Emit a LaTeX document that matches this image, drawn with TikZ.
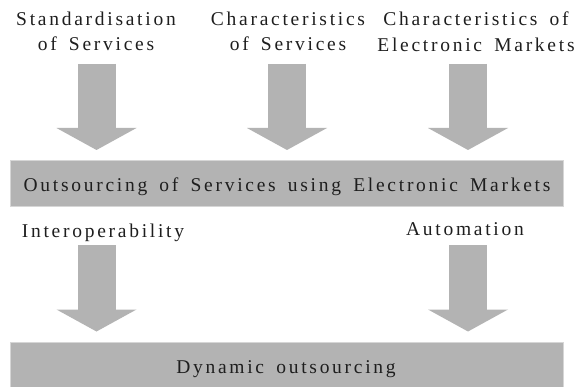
\documentclass[tikz,border=0pt]{standalone}
\usepackage{fontspec}
\usetikzlibrary{arrows.meta}
\newfontfamily\lblfont{Liberation Serif}[LetterSpace=14,WordSpace=1.6]
\definecolor{barc}{HTML}{B3B3B3}
\definecolor{edgec}{HTML}{D6D6D6}
\definecolor{textc}{HTML}{1E1E1E}
\begin{document}
\begin{tikzpicture}[x=1pt,y=-1pt,
  lbl/.style={font={\lblfont\fontsize{19.5pt}{25.5pt}\selectfont}, text=textc, inner sep=0pt, align=center},
  bar/.style={fill=barc, draw=edgec, line width=0.6pt, inner sep=0pt, minimum width=553pt, anchor=north west},
  blockarrow/.style={draw=barc, line width=38pt, -{Triangle[width=80pt,length=22pt,line width=0pt]}}]
\useasboundingbox (0,0) rectangle (575,387);
\fill[white] (0,0) rectangle (575,387);

% top labels
\node[lbl, anchor=north] (std) at (96,11.7) {Standardisation\\of Services};
\node[lbl, anchor=north] (chs) at (288,11.7) {Characteristics\\of Services};
\node[lbl, anchor=north] (che) at (476,11.7) {Characteristics of\\Electronic Markets};

% boxes
\node[bar, minimum height=46pt] (outs) at (10,160) {};
\node[lbl, anchor=base] (outsT) at (287,192) {Outsourcing of Services using Electronic Markets};
\node[bar, minimum height=46pt] (dyn) at (10,341.7) {};
\node[lbl, anchor=base] (dynT) at (286,373) {Dynamic outsourcing};

% middle labels
\node[lbl, anchor=base] (inter) at (103,237) {Interoperability};
\node[lbl, anchor=base] (auto) at (465,236) {Automation};

% arrow coordinates
\coordinate (a1s) at (96.5,64);   \coordinate (a1e) at (96.5,150);
\coordinate (a2s) at (287,64);    \coordinate (a2e) at (287,150);
\coordinate (a3s) at (468,64);    \coordinate (a3e) at (468,150);
\coordinate (b1s) at (96.5,245.5); \coordinate (b1e) at (96.5,331.5);
\coordinate (b2s) at (468,245.5);  \coordinate (b2e) at (468,331.5);

\draw[blockarrow] (a1s) -- (a1e);
\draw[blockarrow] (a2s) -- (a2e);
\draw[blockarrow] (a3s) -- (a3e);
\draw[blockarrow] (b1s) -- (b1e);
\draw[blockarrow] (b2s) -- (b2e);
\end{tikzpicture}
\end{document}
